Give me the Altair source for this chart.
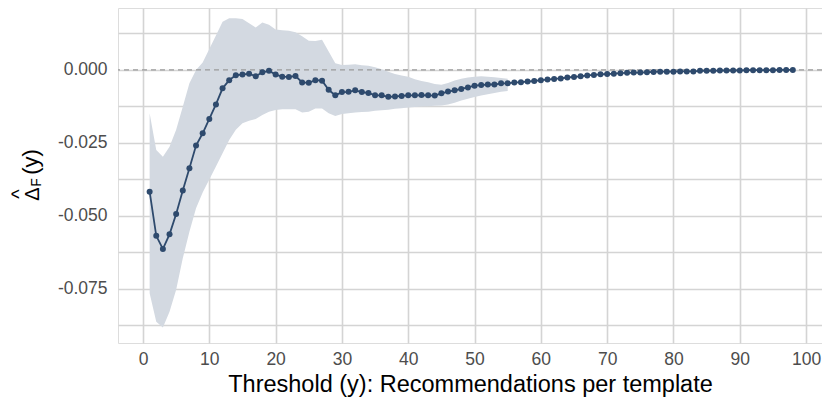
import altair as alt
import pandas as pd

thresholds = list(range(1, 99))
estimate = [
    -0.0417, -0.0568, -0.0613, -0.0563, -0.0493, -0.0413, -0.0337, -0.0259, -0.0217, -0.0168,
    -0.0118, -0.0063, -0.0035, -0.0018, -0.0016, -0.0013, -0.0022, -0.0008, -0.0003, -0.0016,
    -0.0023, -0.0024, -0.0021, -0.0043, -0.0044, -0.0035, -0.0037, -0.0068, -0.0087, -0.0076,
    -0.0075, -0.0070, -0.0076, -0.0079, -0.0087, -0.0087, -0.0092, -0.0091, -0.0089, -0.0087,
    -0.0087, -0.0086, -0.0087, -0.0088, -0.0080, -0.0074, -0.0070, -0.0065, -0.0060, -0.0054,
    -0.0052, -0.0050, -0.0050, -0.0046, -0.0046, -0.0043, -0.0042, -0.0040, -0.0038, -0.0035,
    -0.0033, -0.0031, -0.0029, -0.0026, -0.0024, -0.0022, -0.0019, -0.0017, -0.0015, -0.0014,
    -0.0013, -0.0011, -0.0010, -0.0009, -0.0009, -0.0008, -0.0007, -0.0006, -0.0006, -0.0006,
    -0.0005, -0.0005, -0.0005, -0.0003, -0.0003, -0.0003, -0.0002, -0.0002, -0.0002, -0.0002,
    -0.0001, -0.0001, -0.0001, -0.0001, -0.0001, 0.0000, 0.0000, 0.0000,
]

band_x = list(range(1, 56))
band_upper = [
    -0.0148, -0.0274, -0.0297, -0.0263, -0.0205, -0.0126, -0.0046, 0.0000, 0.0025, 0.0072,
    0.0118, 0.0165, 0.0177, 0.0177, 0.0174, 0.0160, 0.0145, 0.0162, 0.0155, 0.0138,
    0.0136, 0.0134, 0.0129, 0.0115, 0.0100, 0.0099, 0.0103, 0.0063, 0.0023, 0.0017,
    0.0018, 0.0019, 0.0016, 0.0014, 0.0009, 0.0002, -0.0006, -0.0014, -0.0019, -0.0023,
    -0.0032, -0.0038, -0.0042, -0.0048, -0.0051, -0.0045, -0.0036, -0.0030, -0.0026, -0.0023,
    -0.0022, -0.0023, -0.0025, -0.0028, -0.0030,
]
band_lower = [
    -0.0765, -0.0862, -0.0882, -0.0828, -0.0753, -0.0645, -0.0554, -0.0474, -0.0420, -0.0375,
    -0.0331, -0.0285, -0.0240, -0.0205, -0.0183, -0.0174, -0.0168, -0.0154, -0.0143, -0.0137,
    -0.0135, -0.0135, -0.0135, -0.0146, -0.0143, -0.0132, -0.0132, -0.0148, -0.0158, -0.0151,
    -0.0148, -0.0146, -0.0144, -0.0143, -0.0140, -0.0138, -0.0136, -0.0133, -0.0131, -0.0129,
    -0.0127, -0.0125, -0.0124, -0.0123, -0.0122, -0.0118, -0.0112, -0.0105, -0.0099, -0.0093,
    -0.0088, -0.0083, -0.0079, -0.0075, -0.0072,
]

x_ticks = [0, 5, 10, 15, 20, 25, 30, 35, 40, 45, 50, 55, 60, 65, 70, 75, 80, 85, 90, 95, 100]
y_ticks = [-0.0875, -0.075, -0.0625, -0.05, -0.0375, -0.025, -0.0125, 0.0, 0.0125]

x_title = "Threshold (y): Recommendations per template"

pts = pd.DataFrame({"y": thresholds, "est": estimate})
band = pd.DataFrame({"y": band_x, "lo": band_lower, "hi": band_upper})

LINE = "#2E4A6D"
FONT = "Liberation Sans"
GRID = "#D4D4D4"

xs = alt.Scale(domain=[-3.77, 102.4], nice=False, zero=False)
ys = alt.Scale(domain=[-0.0935, 0.0212], nice=False, zero=False)

x_axis = alt.Axis(
    values=x_ticks, domain=False, ticks=False, grid=True, gridColor=GRID, gridWidth=1.6,
    labelExpr="datum.value % 10 == 0 ? datum.label : ''", labelFont=FONT, labelFontSize=17.5,
    labelColor="#4D4D4D", labelPadding=7, labelFlush=False, labelBound=False,
    title=x_title, titleFont=FONT, titleFontSize=23.5,
    titleFontWeight="normal", titleColor="#000000", titlePadding=5,
)
y_axis = alt.Axis(
    values=y_ticks, domain=False, ticks=False, grid=True, gridColor=GRID, gridWidth=1.6,
    labelExpr="abs(round(datum.value * 10000)) % 250 == 0 ? replace(format(datum.value, '.3f'), '\u2212', '-') : ''",
    labelFont=FONT, labelFontSize=17.5, labelColor="#4D4D4D", labelPadding=11, title=None,
)

ribbon = alt.Chart(band).mark_area(color="#D3D9E1", opacity=1).encode(
    x=alt.X("y:Q", scale=xs, axis=x_axis),
    y=alt.Y("lo:Q", scale=ys, axis=y_axis),
    y2="hi:Q",
)

zero = alt.Chart(pd.DataFrame({"v": [0.0]})).mark_rule(
    color="#9A9A9A", strokeDash=[5, 4], strokeWidth=1.4
).encode(y=alt.Y("v:Q", scale=ys))

line = alt.Chart(pts).mark_line(color=LINE, strokeWidth=1.8).encode(
    x=alt.X("y:Q", scale=xs), y=alt.Y("est:Q", scale=ys)
)
dots = alt.Chart(pts).mark_circle(color=LINE, opacity=1, size=36).encode(
    x=alt.X("y:Q", scale=xs), y=alt.Y("est:Q", scale=ys)
)

t_delta = alt.Chart(pd.DataFrame({"t": ["\u0394"]})).mark_text(
    angle=270, align="center", baseline="alphabetic", font=FONT, fontSize=20, color="#000000"
).encode(text="t:N", x=alt.value(-79), y=alt.value(186))
t_hat = alt.Chart(pd.DataFrame({"t": ["^"]})).mark_text(
    angle=270, align="center", baseline="alphabetic", font=FONT, fontSize=20, color="#000000"
).encode(text="t:N", x=alt.value(-92), y=alt.value(186))
t_sub = alt.Chart(pd.DataFrame({"t": ["F"]})).mark_text(
    angle=270, align="center", baseline="alphabetic", font=FONT, fontSize=14, color="#000000"
).encode(text="t:N", x=alt.value(-77), y=alt.value(174.5))
t_paren = alt.Chart(pd.DataFrame({"t": ["(y)"]})).mark_text(
    angle=270, align="center", baseline="alphabetic", font=FONT, fontSize=22, color="#000000"
).encode(text="t:N", x=alt.value(-80), y=alt.value(154))

chart = alt.layer(ribbon, zero, line, dots, t_delta, t_hat, t_sub, t_paren).properties(
    width=704, height=335,
    autosize=alt.AutoSizeParams(type="none"),
    padding={"left": 110, "top": 0, "right": 0, "bottom": 57},
).configure_view(stroke=None).configure(background="white")

chart.save("out.html", embed_options={"renderer": "svg", "actions": False})
